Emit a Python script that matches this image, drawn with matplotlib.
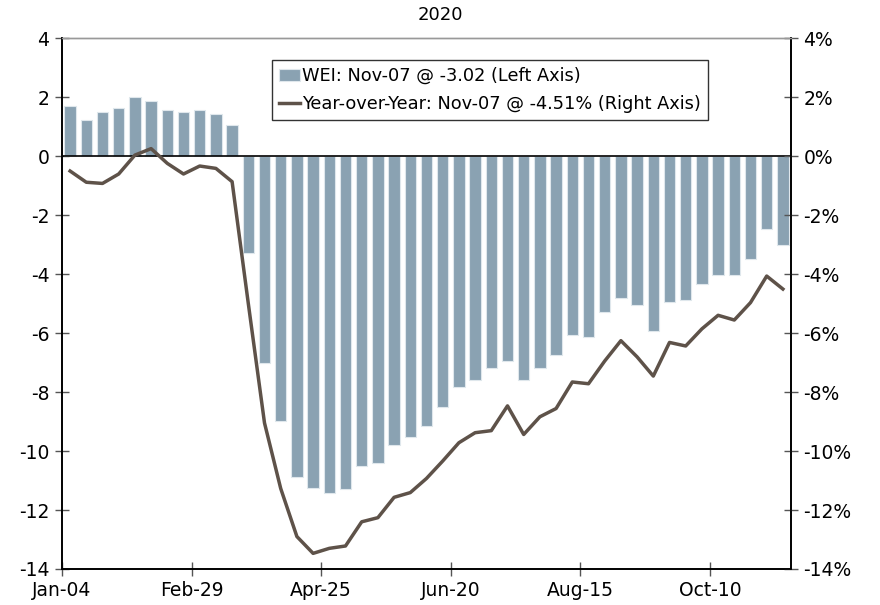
import matplotlib
matplotlib.use("Agg")
import matplotlib.pyplot as plt
import numpy as np

plt.rcParams['font.family'] = ['DejaVu Sans']

# Weekly dates (2020), Jan-04 through Nov-07
tick_labels = ["Jan-04", "Feb-29", "Apr-25", "Jun-20", "Aug-15", "Oct-10"]
tick_weeks = [0, 8, 16, 24, 32, 40]

wei = [1.70, 1.22, 1.49, 1.62, 2.00, 1.85, 1.56, 1.50, 1.55, 1.41, 1.06,
       -3.30, -7.02, -8.98, -10.88, -11.27, -11.42, -11.29, -10.52, -10.42,
       -9.80, -9.51, -9.16, -8.51, -7.83, -7.59, -7.19, -6.94, -7.58, -7.20,
       -6.75, -6.06, -6.14, -5.30, -4.80, -5.06, -5.92, -4.96, -4.88, -4.34,
       -4.02, -4.02, -3.50, -2.49, -3.02]

yoy = [-0.51, -0.89, -0.93, -0.61, 0.03, 0.25, -0.25, -0.61, -0.34, -0.42,
       -0.87, -5.0, -9.05, -11.27, -12.90, -13.47, -13.30, -13.22, -12.40,
       -12.26, -11.57, -11.41, -10.93, -10.34, -9.72, -9.38, -9.31, -8.47,
       -9.44, -8.84, -8.56, -7.66, -7.72, -6.95, -6.26, -6.81, -7.46, -6.32,
       -6.44, -5.86, -5.40, -5.56, -4.97, -4.07, -4.51]

bar_color = "#8aa2b2"
line_color = "#5e5249"

fig = plt.figure(figsize=(8.8, 6.05), dpi=100)
ax = fig.add_axes([62/880, 1-569/605, (791-62)/880, (569-38)/605])
ax2 = ax.twinx()

x = np.arange(len(wei)) + 0.5
ax.bar(x, wei, width=0.7, color=bar_color, edgecolor="#dfe7ec", linewidth=0.8,
       zorder=2, label="WEI: Nov-07 @ -3.02 (Left Axis)")
ax.axhline(0, color="black", linewidth=1.2, zorder=3)

ax2.plot(x, yoy, color=line_color, linewidth=2.5, zorder=4,
         label="Year-over-Year: Nov-07 @ -4.51% (Right Axis)")

ax.set_xlim(0, 45)
ax.set_ylim(-14, 4)
ax2.set_ylim(-14, 4)
ax.set_yticks(np.arange(-14, 5, 2))
ax.set_yticklabels([str(v) for v in range(-14, 5, 2)])
ax2.set_yticks(np.arange(-14, 5, 2))
ax2.set_yticklabels([f"{v}%" for v in range(-14, 5, 2)])
ax.set_xticks(tick_weeks)
ax.set_xticklabels(tick_labels)

for a in (ax, ax2):
    a.tick_params(axis='both', direction='inout', length=10, width=1,
                  color="#555555", labelsize=13.5, pad=4)
    for s in ("left", "bottom", "right"):
        a.spines[s].set_color("black")
        a.spines[s].set_linewidth(1.2)
    a.spines["top"].set_color("#999999")
    a.spines["top"].set_linewidth(1.0)

fig.text(440/880, 1-15/605, "2020", ha="center", va="center", fontsize=13)

h1, l1 = ax.get_legend_handles_labels()
h2, l2 = ax2.get_legend_handles_labels()
leg = ax2.legend(h1 + h2, l1 + l2, loc="upper left",
                 bbox_to_anchor=(272/880, 1-60/605), bbox_transform=fig.transFigure,
                 fontsize=12.8, frameon=True, fancybox=False, edgecolor="black",
                 handlelength=1.2, handletextpad=0.1, borderpad=0.4,
                 labelspacing=0.55, borderaxespad=0)
leg.get_frame().set_linewidth(1.0)
leg.set_zorder(10)

fig.savefig("out.png", dpi=100, facecolor="white")
